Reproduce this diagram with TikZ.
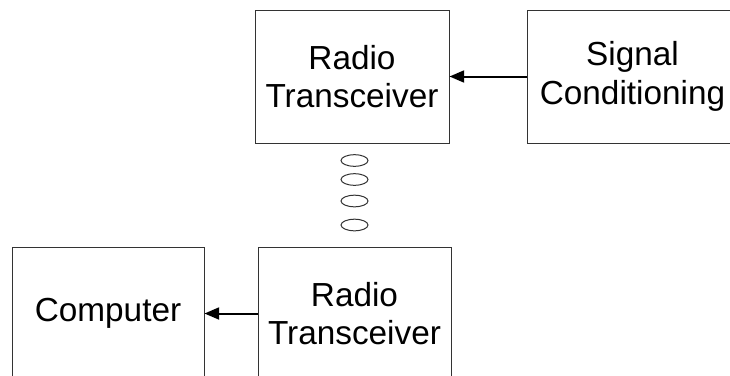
\documentclass[tikz,border=0pt]{standalone}
\usepackage{fontspec}
\setmainfont{Liberation Sans}
\usetikzlibrary{arrows.meta}

\tikzset{every picture/.style={line width=0.75pt}}
\tikzset{
  blockbox/.style={draw=black!80, inner sep=0pt, align=center,
    font=\fontsize{25}{29}\selectfont},
  sigarrow/.style={-{Triangle[length=11pt,width=9pt]}, line width=1.5pt}
}

\begin{document}
\begin{tikzpicture}[x=0.75pt,y=0.75pt,yscale=-1,xscale=1]
\useasboundingbox (0,0) rectangle (730,375);
\clip (0,0) rectangle (730,375);

%Shape: Rectangle [id:radioTop] 
\node [blockbox, minimum width=145.5pt, minimum height=99.75pt] (radioTop) at (352,76.5) {Radio\\Transceiver};
%Shape: Rectangle [id:signal] 
\node [blockbox, minimum width=157.5pt, minimum height=99.75pt] (signal) at (632.5,76.5) {Signal\\Conditioning};
%Shape: Rectangle [id:computer] 
\node [blockbox, minimum width=144pt, minimum height=99.75pt] (computer) at (108,313.5) {Computer};
%Shape: Rectangle [id:radioBottom] 
\node [blockbox, minimum width=144.75pt, minimum height=99.75pt] (radioBottom) at (354.5,313.5) {Radio\\Transceiver};

%Straight Lines [id:signalToRadio] 
\draw [sigarrow] (signal.west) -- (radioTop.east);
%Straight Lines [id:radioToComputer] 
\draw [sigarrow] (radioBottom.west) -- (computer.east);

%Shape: Ellipse [id:wave1] 
\draw [black!80] (354.5,160.5) ellipse [x radius=13.5, y radius=5.8];
%Shape: Ellipse [id:wave2] 
\draw [black!80] (354.5,179.5) ellipse [x radius=13.5, y radius=5.8];
%Shape: Ellipse [id:wave3] 
\draw [black!80] (354.5,201) ellipse [x radius=13.5, y radius=5.8];
%Shape: Ellipse [id:wave4] 
\draw [black!80] (354.5,225) ellipse [x radius=13.5, y radius=5.8];

\end{tikzpicture}
\end{document}
